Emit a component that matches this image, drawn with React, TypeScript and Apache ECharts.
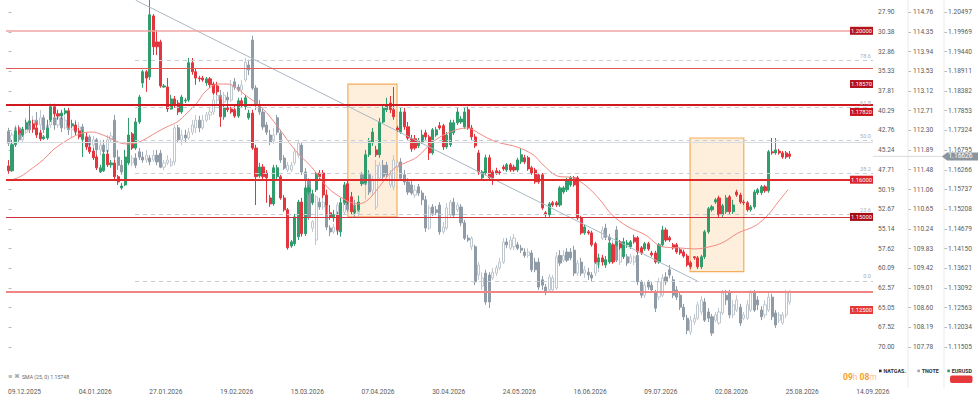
import React, { useEffect, useRef } from "react";
import * as echarts from "echarts";

// ---------- data ----------
const dateLabels = ["09.12.2025","04.01.2026","27.01.2026","19.02.2026","15.03.2026","07.04.2026","30.04.2026","24.05.2026","16.06.2026","09.07.2026","02.08.2026","25.08.2026","14.09.2026"];
const natgasTicks = [27.90,30.38,32.86,35.33,37.81,40.29,42.76,45.24,47.71,50.19,52.67,55.14,57.62,60.09,62.57,65.05,67.52,70.00];
const tnoteTicks = [114.76,114.35,113.94,113.53,113.12,112.71,112.30,111.89,111.48,111.06,110.65,110.24,109.83,109.42,109.01,108.60,108.19,107.78];
const eurusdTicks = [1.20497,1.19969,1.19440,1.18911,1.18382,1.17853,1.17324,1.16795,1.16266,1.15737,1.15208,1.14679,1.14150,1.13621,1.13092,1.12563,1.12034,1.11505];

const levelValues = [1.2, 1.1857, 1.1782, 1.16, 1.15, 1.125];
const fibRatios = [0, 23.6, 38.2, 50.0, 61.8, 78.6, 100];
const fibStartIndex = 35.8;
const fibHigh = 1.2083;
const fibLow = 1.1328;
const trendLine = [[36.0, 1.2082], [194.8, 1.1328]];
const zones = [
  [[96.0, 1.1857], [109.9, 1.15]],
  [[192.8, 1.1712], [208.0, 1.1353]],
];
const lastPrice = 1.16626;
const smaText = "SMA (25, 0) 1.15748";
const legendNames = ["NATGAS.", "TNOTE", "EURUSD"];

// EURUSD daily candles: [open, close, low, high]
const eurusdCandles = [
[1.1637,1.1624,1.1616,1.1653],[1.1624,1.1694,1.1621,1.1707],[1.1694,1.1731,1.1688,1.1742],[1.1731,1.1726,1.1720,1.1742],[1.1720,1.1736,1.1715,1.1742],
[1.1736,1.1753,1.1734,1.1761],[1.1753,1.1758,1.1745,1.1804],[1.1750,1.1736,1.1726,1.1761],[1.1739,1.1720,1.1712,1.1755],[1.1726,1.1710,1.1704,1.1734],
[1.1710,1.1715,1.1707,1.1720],[1.1712,1.1739,1.1707,1.1761],[1.1761,1.1796,1.1755,1.1804],[1.1796,1.1777,1.1769,1.1804],[1.1777,1.1771,1.1761,1.1788],
[1.1771,1.1779,1.1763,1.1788],[1.1779,1.1785,1.1774,1.1793],[1.1785,1.1745,1.1739,1.1793],[1.1745,1.1750,1.1739,1.1761],[1.1747,1.1731,1.1720,1.1755],
[1.1731,1.1715,1.1710,1.1739],[1.1710,1.1720,1.1661,1.1734],[1.1715,1.1688,1.1680,1.1726],[1.1688,1.1675,1.1669,1.1699],[1.1677,1.1659,1.1653,1.1685],
[1.1661,1.1632,1.1626,1.1667],[1.1621,1.1632,1.1618,1.1640],[1.1624,1.1669,1.1621,1.1680],[1.1669,1.1640,1.1634,1.1680],[1.1640,1.1645,1.1632,1.1653],
[1.1645,1.1608,1.1600,1.1653],[1.1608,1.1594,1.1586,1.1613],[1.1578,1.1583,1.1573,1.1591],[1.1586,1.1661,1.1583,1.1680],[1.1645,1.1720,1.1640,1.1766],
[1.1723,1.1685,1.1680,1.1728],[1.1685,1.1755,1.1680,1.1766],[1.1755,1.1822,1.1750,1.1828],[1.1860,1.1890,1.1847,1.1895],[1.1890,1.1873,1.1836,1.1895],
[1.1876,1.2043,1.1868,1.2083],[1.2040,1.1957,1.1935,1.2045],[1.1970,1.1957,1.1935,1.2002],[1.1970,1.1852,1.1847,1.1976],[1.1849,1.1852,1.1847,1.1857],
[1.1849,1.1790,1.1782,1.1873],[1.1790,1.1817,1.1788,1.1828],[1.1817,1.1801,1.1793,1.1825],[1.1806,1.1782,1.1774,1.1814],[1.1782,1.1822,1.1777,1.1828],
[1.1812,1.1814,1.1806,1.1820],[1.1814,1.1914,1.1809,1.1927],[1.1914,1.1890,1.1882,1.1927],[1.1890,1.1873,1.1855,1.1900],[1.1873,1.1871,1.1863,1.1879],
[1.1873,1.1868,1.1863,1.1879],[1.1860,1.1871,1.1852,1.1876],[1.1871,1.1855,1.1847,1.1876],[1.1857,1.1833,1.1828,1.1863],[1.1852,1.1836,1.1828,1.1863],
[1.1814,1.1769,1.1742,1.1822],[1.1769,1.1793,1.1761,1.1801],[1.1793,1.1788,1.1782,1.1798],[1.1790,1.1782,1.1777,1.1796],[1.1788,1.1771,1.1766,1.1801],
[1.1771,1.1812,1.1766,1.1820],[1.1812,1.1804,1.1793,1.1820],[1.1796,1.1820,1.1788,1.1828],[1.1766,1.1779,1.1761,1.1788],[1.1779,1.1685,1.1680,1.1788],
[1.1685,1.1608,1.1532,1.1694],[1.1610,1.1634,1.1605,1.1645],[1.1634,1.1608,1.1600,1.1642],[1.1618,1.1605,1.1538,1.1626],[1.1551,1.1535,1.1527,1.1559],
[1.1535,1.1632,1.1530,1.1640],[1.1608,1.1632,1.1600,1.1640],[1.1608,1.1551,1.1546,1.1613],[1.1551,1.1519,1.1514,1.1559],[1.1519,1.1417,1.1412,1.1524],
[1.1422,1.1433,1.1417,1.1438],[1.1428,1.1500,1.1422,1.1508],[1.1447,1.1540,1.1438,1.1546],[1.1540,1.1455,1.1447,1.1551],[1.1455,1.1578,1.1449,1.1586],
[1.1567,1.1578,1.1559,1.1586],[1.1538,1.1562,1.1532,1.1573],[1.1573,1.1616,1.1567,1.1621],[1.1618,1.1608,1.1600,1.1626],[1.1618,1.1559,1.1551,1.1626],
[1.1559,1.1532,1.1506,1.1573],[1.1511,1.1500,1.1492,1.1532],[1.1497,1.1506,1.1487,1.1519],[1.1506,1.1465,1.1452,1.1514],[1.1460,1.1538,1.1447,1.1551],
[1.1538,1.1586,1.1532,1.1594],[1.1589,1.1540,1.1532,1.1600],[1.1554,1.1514,1.1506,1.1567],[1.1514,1.1519,1.1508,1.1530],[1.1519,1.1540,1.1514,1.1557],
[1.1589,1.1594,1.1583,1.1605],[1.1591,1.1667,1.1586,1.1680],[1.1667,1.1702,1.1661,1.1712],[1.1699,1.1728,1.1691,1.1739],[1.1680,1.1667,1.1661,1.1691],
[1.1667,1.1755,1.1659,1.1766],[1.1755,1.1793,1.1750,1.1801],[1.1788,1.1801,1.1782,1.1820],[1.1806,1.1788,1.1779,1.1825],[1.1788,1.1769,1.1761,1.1849],
[1.1739,1.1734,1.1728,1.1745],[1.1728,1.1782,1.1723,1.1793],[1.1782,1.1742,1.1734,1.1793],[1.1742,1.1712,1.1707,1.1755],[1.1710,1.1683,1.1675,1.1720],
[1.1710,1.1685,1.1680,1.1720],[1.1691,1.1704,1.1685,1.1712],[1.1702,1.1720,1.1696,1.1734],[1.1726,1.1715,1.1707,1.1734],[1.1715,1.1672,1.1653,1.1720],
[1.1672,1.1734,1.1667,1.1739],[1.1720,1.1734,1.1715,1.1742],[1.1745,1.1739,1.1734,1.1755],[1.1745,1.1688,1.1680,1.1750],[1.1688,1.1720,1.1683,1.1728],
[1.1694,1.1753,1.1688,1.1761],[1.1726,1.1753,1.1720,1.1761],[1.1753,1.1782,1.1747,1.1793],[1.1755,1.1763,1.1750,1.1771],[1.1742,1.1782,1.1736,1.1793],
[1.1788,1.1739,1.1734,1.1796],[1.1739,1.1715,1.1707,1.1747],[1.1715,1.1691,1.1685,1.1723],[1.1672,1.1621,1.1613,1.1680],[1.1605,1.1621,1.1600,1.1626],
[1.1618,1.1659,1.1613,1.1667],[1.1659,1.1605,1.1600,1.1667],[1.1621,1.1605,1.1586,1.1626],[1.1624,1.1618,1.1613,1.1632],[1.1621,1.1618,1.1613,1.1626],
[1.1634,1.1629,1.1624,1.1640],[1.1626,1.1640,1.1621,1.1645],[1.1640,1.1626,1.1621,1.1645],[1.1634,1.1626,1.1621,1.1640],[1.1626,1.1653,1.1621,1.1659],
[1.1648,1.1667,1.1642,1.1685],[1.1659,1.1648,1.1642,1.1667],[1.1659,1.1629,1.1624,1.1664],[1.1632,1.1618,1.1613,1.1637],[1.1626,1.1594,1.1589,1.1632],
[1.1613,1.1594,1.1589,1.1618],[1.1613,1.1524,1.1519,1.1618],[1.1511,1.1506,1.1500,1.1516],[1.1506,1.1535,1.1500,1.1540],[1.1538,1.1532,1.1527,1.1543],
[1.1538,1.1532,1.1527,1.1543],[1.1532,1.1578,1.1527,1.1583],[1.1567,1.1578,1.1562,1.1583],[1.1573,1.1600,1.1567,1.1605],[1.1586,1.1605,1.1581,1.1610],
[1.1605,1.1586,1.1581,1.1610],[1.1605,1.1497,1.1492,1.1610],[1.1497,1.1457,1.1452,1.1503],[1.1457,1.1473,1.1452,1.1479],[1.1460,1.1457,1.1452,1.1465],
[1.1457,1.1425,1.1420,1.1463],[1.1428,1.1379,1.1374,1.1433],[1.1379,1.1390,1.1363,1.1401],[1.1390,1.1379,1.1369,1.1398],[1.1371,1.1385,1.1363,1.1395],
[1.1379,1.1430,1.1374,1.1438],[1.1425,1.1379,1.1374,1.1430],[1.1425,1.1433,1.1420,1.1444],[1.1433,1.1417,1.1412,1.1438],[1.1393,1.1433,1.1387,1.1444],
[1.1425,1.1430,1.1417,1.1438],[1.1420,1.1433,1.1414,1.1438],[1.1444,1.1433,1.1428,1.1452],[1.1444,1.1406,1.1401,1.1449],[1.1417,1.1403,1.1398,1.1422],
[1.1414,1.1428,1.1409,1.1433],[1.1428,1.1414,1.1409,1.1433],[1.1403,1.1398,1.1393,1.1409],[1.1403,1.1379,1.1374,1.1409],[1.1379,1.1425,1.1374,1.1430],
[1.1425,1.1465,1.1420,1.1476],[1.1465,1.1438,1.1433,1.1471],[1.1444,1.1438,1.1433,1.1449],[1.1425,1.1417,1.1412,1.1430],[1.1425,1.1406,1.1401,1.1430],
[1.1412,1.1403,1.1398,1.1417],[1.1406,1.1395,1.1390,1.1412],[1.1395,1.1371,1.1366,1.1401],[1.1377,1.1366,1.1360,1.1382],[1.1393,1.1390,1.1385,1.1395],
[1.1390,1.1366,1.1360,1.1395],[1.1366,1.1393,1.1360,1.1398],[1.1393,1.1460,1.1387,1.1465],[1.1460,1.1522,1.1455,1.1527],[1.1519,1.1527,1.1514,1.1532],
[1.1540,1.1546,1.1535,1.1551],[1.1551,1.1506,1.1500,1.1557],[1.1506,1.1530,1.1500,1.1535],[1.1514,1.1551,1.1508,1.1559],[1.1554,1.1514,1.1508,1.1559],
[1.1514,1.1532,1.1508,1.1546],[1.1567,1.1559,1.1554,1.1573],[1.1559,1.1540,1.1535,1.1565],[1.1540,1.1538,1.1532,1.1546],[1.1538,1.1519,1.1514,1.1543],
[1.1519,1.1527,1.1514,1.1532],[1.1527,1.1567,1.1522,1.1573],[1.1565,1.1573,1.1559,1.1578],[1.1565,1.1581,1.1559,1.1586],[1.1581,1.1570,1.1565,1.1586],
[1.1570,1.1675,1.1565,1.1680],[1.1675,1.1672,1.1667,1.1712],[1.1672,1.1680,1.1667,1.1712],[1.1677,1.1672,1.1667,1.1683],[1.1672,1.1661,1.1656,1.1677],
[1.1672,1.1661,1.1656,1.1677],[1.1669,1.16626,1.1656,1.1677],
];

// TNOTE daily candles: [open, close, low, high]
const tnoteCandles = [
[112.28,112.03,111.97,112.35],[112.03,112.20,111.93,112.26],[112.20,112.35,112.14,112.41],[112.35,112.10,112.03,112.41],[112.10,112.26,112.05,112.35],
[112.26,112.47,112.22,112.56],[112.47,112.31,112.24,112.56],[112.31,112.51,112.26,112.60],[112.51,112.41,112.35,112.68],[112.41,112.56,112.31,112.72],
[112.56,112.31,112.24,112.62],[112.31,112.41,112.10,112.51],[112.41,112.56,112.35,112.68],[112.56,112.41,112.31,112.77],[112.41,112.56,112.35,112.68],
[112.56,112.35,112.26,112.64],[112.35,112.51,112.31,112.60],[112.51,112.31,112.20,112.62],[112.31,112.39,112.14,112.47],[112.39,112.26,112.20,112.51],
[112.26,112.37,112.10,112.47],[112.37,112.10,111.78,112.43],[112.10,112.16,111.99,112.26],[112.16,111.99,111.89,112.20],[111.99,112.10,111.89,112.18],
[112.10,111.89,111.72,112.14],[111.89,111.99,111.78,112.10],[111.99,111.85,111.68,112.10],[111.85,112.10,111.78,112.20],[112.10,112.18,112.05,112.26],
[112.51,111.74,111.68,112.62],[111.74,111.57,111.47,111.89],[111.57,111.43,111.37,111.68],[111.43,111.68,111.37,111.89],[111.68,111.72,111.57,111.78],
[111.62,111.72,111.55,111.78],[111.72,111.57,111.51,111.82],[111.85,111.74,111.68,111.93],[111.74,111.68,111.62,111.85],[111.68,111.78,111.62,111.89],
[111.72,111.64,111.57,111.78],[111.68,111.78,111.64,111.89],[111.78,111.64,111.57,111.89],[111.82,111.53,111.51,111.89],[111.53,111.62,111.47,111.68],
[111.62,111.68,111.57,111.78],[111.57,111.64,111.53,111.72],[111.64,112.35,111.57,112.41],[112.35,112.10,112.05,112.41],[112.10,112.20,111.99,112.31],
[112.20,112.14,112.05,112.31],[112.14,112.26,112.10,112.35],[112.26,112.41,112.20,112.51],[112.35,112.51,112.24,112.62],[112.51,112.35,112.26,112.60],
[112.35,112.51,112.31,112.62],[112.51,112.62,112.47,112.68],[112.62,112.68,112.51,112.77],[112.68,112.93,112.62,113.03],[112.93,113.03,112.85,113.14],
[113.03,112.89,112.83,113.14],[112.89,113.03,112.83,113.10],[112.99,112.93,112.85,113.10],[112.93,113.24,112.89,113.35],[113.31,113.20,113.14,113.39],
[113.20,113.14,113.10,113.26],[113.14,113.24,113.03,113.35],[113.35,113.72,113.31,113.81],[113.66,113.56,113.45,113.77],[114.18,113.18,113.14,114.27],
[113.18,112.83,112.72,113.24],[112.83,112.68,112.62,112.93],[112.68,112.37,112.31,112.77],[112.41,112.26,112.20,112.47],[112.20,112.05,111.99,112.31],
[112.10,112.20,112.01,112.35],[112.56,112.26,112.20,112.62],[112.24,111.68,111.62,112.31],[111.72,111.51,111.47,111.78],[111.47,111.57,111.43,111.64],
[111.47,111.57,111.43,111.64],[111.62,111.85,111.57,111.93],[111.78,112.03,111.72,112.10],[111.99,111.43,111.37,112.05],[111.43,111.26,111.16,111.51],
[111.26,110.49,110.43,111.30],[110.26,110.39,110.18,110.43],[110.01,110.91,109.91,110.95],[110.80,110.70,110.64,110.89],[110.70,110.80,110.64,110.89],
[110.85,110.28,110.22,110.93],[110.26,110.18,110.09,110.32],[110.18,110.28,110.14,110.35],[110.18,110.74,110.12,110.80],[110.74,110.59,110.43,110.85],
[110.59,110.85,110.53,110.93],[111.01,110.64,110.59,111.10],[110.64,110.74,110.53,110.85],[110.74,110.57,110.47,110.85],[110.57,110.74,110.51,110.85],
[111.37,111.20,111.14,111.43],[111.16,111.37,110.85,111.43],[111.37,111.01,110.95,111.47],[111.05,111.26,110.95,111.35],[110.70,111.57,110.64,111.68],
[111.30,111.57,111.26,111.64],[111.57,111.33,111.26,111.68],[111.57,111.37,111.30,111.64],[111.16,111.37,111.10,111.47],[111.12,111.68,111.05,111.78],
[111.53,111.62,111.47,111.68],[111.64,111.30,111.26,111.72],[111.37,111.22,111.16,111.47],[111.22,111.01,110.95,111.30],[111.16,110.99,110.95,111.26],
[110.95,111.05,110.89,111.16],[111.12,110.99,110.93,111.18],[110.99,110.85,110.74,111.05],[110.85,110.26,110.18,110.93],[110.26,110.68,110.22,110.74],
[110.70,110.57,110.51,110.76],[110.64,110.59,110.53,110.72],[110.74,110.18,110.12,110.80],[110.18,110.28,110.14,110.39],[110.26,110.68,110.22,110.78],
[110.53,110.80,110.47,110.85],[110.80,110.53,110.47,110.89],[110.64,110.74,110.59,110.80],[110.70,110.37,110.30,110.76],[110.37,110.05,110.01,110.43],
[110.05,110.01,109.97,110.12],[109.87,110.05,109.80,110.09],[109.87,109.14,109.07,109.91],[109.28,109.49,109.18,109.55],[109.05,109.22,108.97,109.34],
[109.32,108.72,108.66,109.39],[109.28,108.72,108.59,109.34],[109.22,109.34,109.18,109.43],[109.32,109.43,109.26,109.49],[109.43,109.55,109.39,109.64],
[109.55,109.97,109.51,110.05],[109.97,109.91,109.84,110.05],[109.84,110.01,109.80,110.09],[109.87,110.05,109.80,110.14],[109.91,109.84,109.80,109.97],
[109.84,109.80,109.74,109.91],[109.76,109.69,109.64,109.84],[109.69,109.76,109.64,109.84],[109.74,109.39,109.34,109.80],[109.55,109.39,109.34,109.64],
[109.55,109.03,108.97,109.64],[109.18,109.07,108.97,109.26],[109.03,108.93,108.86,109.09],[108.97,109.24,108.93,109.30],[108.97,109.22,108.93,109.28],
[109.01,109.66,108.97,109.76],[109.69,109.53,109.47,109.80],[109.59,109.69,109.55,109.80],[109.76,109.59,109.55,109.84],[109.76,109.64,109.59,109.84],
[109.80,109.32,109.26,109.89],[109.32,109.53,109.26,109.59],[109.55,109.32,109.26,109.64],[109.32,109.39,109.22,109.47],[109.34,109.28,109.18,109.43],
[109.28,109.22,109.14,109.34],[109.32,109.74,109.26,109.80],[109.49,109.55,109.34,109.64],[110.05,110.22,110.01,110.30],[110.26,110.07,110.01,110.35],
[110.07,110.01,109.93,110.14],[109.80,109.91,109.69,110.01],[110.22,109.59,109.55,110.30],[109.55,109.95,109.49,110.01],[109.91,109.76,109.69,109.97],
[109.66,109.53,109.47,109.72],[109.55,109.66,109.51,109.72],[109.55,109.66,109.49,109.69],[109.69,109.14,109.07,109.76],[109.14,108.86,108.80,109.18],
[108.86,109.07,108.80,109.14],[109.14,109.03,108.97,109.18],[109.07,108.97,108.91,109.14],[108.91,108.59,108.51,108.97],[108.82,109.14,108.76,109.22],
[108.86,109.22,108.82,109.30],[109.24,109.14,109.07,109.34],[109.39,109.28,109.22,109.49],[109.18,108.86,108.80,109.26],[108.97,108.82,108.76,109.05],
[108.86,108.61,108.55,108.93],[108.61,108.41,108.34,108.68],[108.38,108.13,108.05,108.45],[108.09,108.34,108.03,108.43],[108.30,108.38,108.24,108.47],
[108.38,108.66,108.34,108.72],[108.51,108.76,108.45,108.84],[108.72,108.34,108.30,108.80],[108.51,108.38,108.30,108.59],[108.41,108.07,108.01,108.47],
[108.34,108.45,108.30,108.51],[108.28,108.51,108.24,108.59],[108.49,108.91,108.45,108.97],[108.86,108.76,108.66,108.97],[108.91,108.45,108.38,108.97],
[108.45,108.66,108.38,108.76],[108.55,108.76,108.51,108.86],[108.61,108.28,108.22,108.68],[108.38,108.45,108.34,108.51],[108.38,108.66,108.34,108.76],
[108.55,108.91,108.51,108.97],[108.91,108.55,108.51,108.97],[108.76,108.66,108.55,108.84],[108.55,108.41,108.34,108.63],[108.45,108.66,108.38,108.76],
[108.55,108.82,108.51,108.93],[108.82,108.41,108.34,108.89],[108.49,108.24,108.18,108.55],[108.34,108.45,108.28,108.51],[108.28,108.45,108.24,108.51],
[108.45,108.91,108.38,108.97],[108.72,108.93,108.66,108.97],
];

// SMA(25) read at points along the curve: [candle index, value]
const smaPoints = [
[0,1.1597],[3.3,1.1608],[6.9,1.1632],[9.8,1.1653],[12.6,1.1680],[15.4,1.1699],[18.2,1.1715],[21.1,1.1726],[23.9,1.1728],[25.9,1.1723],
[28.7,1.1712],[31.5,1.1699],[33.8,1.1696],[36.4,1.1699],[39.2,1.1712],[42,1.1728],[44.8,1.1742],[47.7,1.1755],[50.5,1.1779],[53.3,1.1806],
[55.6,1.1836],[59.3,1.1857],[62.1,1.1857],[64.1,1.1849],[66.9,1.1828],[71.7,1.1793],[76.2,1.1742],[81,1.1680],[85.9,1.1632],[90.4,1.1578],
[95.2,1.1546],[98.9,1.1535],[101.7,1.1546],[105.7,1.1591],[109.3,1.1632],[112.2,1.1645],[115.6,1.1661],[120.1,1.1702],[124.9,1.1728],[129.7,1.1739],
[131.4,1.1734],[135.4,1.1712],[139,1.1699],[143.8,1.1688],[148.4,1.1667],[151.2,1.1640],[155.2,1.1610],[159.7,1.1605],[163.7,1.1581],[167.3,1.1546],
[170.7,1.1506],[175.3,1.1473],[180.1,1.1452],[184.9,1.1420],[189.4,1.1417],[194.2,1.1414],[197,1.1417],[201.8,1.1430],[206.4,1.1457],[211.2,1.1476],
[214.9,1.1506],[217.7,1.1540],[220.5,1.1573],
];

// ---------- layout / style (not data) ----------
const W = 978, H = 402;
const GRID = { left: 6, top: 0, width: 867, height: 360 };
const X_MIN = -0.707, X_MAX = 244.55;
const LABEL_START = 4.526, LABEL_STEP = 20;
const EUR_RANGE = [1.111563, 1.208274];
const TNOTE_RANGE = [107.5088, 115.0165];
const NATGAS_RANGE = [26.353, 71.636];
const levelStyles = [
  { line: "#f2a3a3", width: 1.6, box: "#b3141c" },
  { line: "#e05a5a", width: 1.2, box: "#b3141c" },
  { line: "#d0181f", width: 2, box: "#c8141c" },
  { line: "#e02a2a", width: 1.8, box: "#d8222a" },
  { line: "#d0343a", width: 1, box: "#a50d14" },
  { line: "#ef8585", width: 2, box: "#e53935" },
];
const FONT = "Roboto, 'Noto Sans', sans-serif";
const AXIS_TEXT = "#5b5b5b";

function yAxisCfg(ticks: number[], range: number[], offset: number, digits: number, inverse: boolean, margin: number) {
  return {
    type: "value",
    position: "right",
    offset,
    inverse,
    min: range[0],
    max: range[1],
    axisLine: { show: false },
    splitLine: { show: false },
    axisTick: { show: true, length: 3, customValues: ticks, lineStyle: { color: "#b9b9b9", width: 1 } },
    axisLabel: {
      customValues: ticks,
      margin,
      color: AXIS_TEXT,
      fontSize: 6.6,
      fontFamily: FONT,
      formatter: (v: number) => v.toFixed(digits),
    },
  };
}

export default function App() {
  const ref = useRef<HTMLDivElement>(null);

  useEffect(() => {
    if (!ref.current) return;
    const chart = echarts.init(ref.current, null, { renderer: "svg" });

    const labelValues = dateLabels.map((_, k) => LABEL_START + k * LABEL_STEP);

    const levelLines = levelValues.map((v, i) => ({
      yAxis: v,
      lineStyle: { color: levelStyles[i].line, width: levelStyles[i].width, type: "solid" },
    }));
    const fibLines = fibRatios.map((r) => {
      const v = fibLow + (r / 100) * (fibHigh - fibLow);
      const st = { color: "#c6cdd5", width: 1, type: [4, 4] };
      return [
        { coord: [fibStartIndex, v], lineStyle: st },
        { coord: [X_MAX, v], lineStyle: st },
      ];
    });
    const trendStyle = { color: "#a9b8c4", width: 1, type: "solid" };
    const trend = [
      { coord: trendLine[0], lineStyle: trendStyle },
      { coord: trendLine[1], lineStyle: trendStyle },
    ];
    const priceLine = { yAxis: lastPrice, lineStyle: { color: "#d7dbdf", width: 1, type: "solid" } };

    const option: any = {
      animation: false,
      backgroundColor: "#ffffff",
      grid: { left: GRID.left, top: GRID.top, width: GRID.width, height: GRID.height, containLabel: false },
      xAxis: {
        type: "value",
        min: X_MIN,
        max: X_MAX,
        axisLine: { show: false },
        axisTick: { show: false },
        splitLine: { show: false },
        axisLabel: {
          customValues: labelValues,
          margin: 28,
          color: AXIS_TEXT,
          fontSize: 6.6,
          fontFamily: FONT,
          formatter: (v: number) => {
            const k = Math.round((v - LABEL_START) / LABEL_STEP);
            return dateLabels[k] ?? "";
          },
        },
      },
      yAxis: [
        yAxisCfg(natgasTicks, NATGAS_RANGE, 0, 2, true, 5),
        yAxisCfg(tnoteTicks, TNOTE_RANGE, 35, 2, false, 5),
        yAxisCfg(eurusdTicks, EUR_RANGE, 71, 5, false, 4),
      ],
      series: [
        {
          name: "TNOTE",
          type: "candlestick",
          yAxisIndex: 1,
          data: tnoteCandles.map((d, i) => [i, ...d]),
          encode: { x: 0, y: [1, 2, 3, 4] },
          barWidth: 2.6,
          itemStyle: { color: "#ffffff", color0: "#8f9ba6", borderColor: "#c0c8cf", borderColor0: "#8f9ba6", borderWidth: 1 },
          silent: true,
        },
        {
          name: "EURUSD",
          type: "candlestick",
          yAxisIndex: 2,
          data: eurusdCandles.map((d, i) => [i, ...d]),
          encode: { x: 0, y: [1, 2, 3, 4] },
          barWidth: 2.6,
          itemStyle: { color: "#2f9d6c", color0: "#e2363e", borderColor: "#2f9d6c", borderColor0: "#e2363e", borderWidth: 1 },
          silent: true,
        },
        {
          name: "SMA",
          type: "line",
          yAxisIndex: 2,
          data: smaPoints,
          smooth: 0.35,
          symbol: "none",
          silent: true,
          lineStyle: { color: "#f28a82", width: 1 },
          markArea: {
            silent: true,
            itemStyle: { color: "rgba(250, 196, 130, 0.28)", borderColor: "#f6ad5c", borderWidth: 1.2 },
            data: zones.map((z) => [{ coord: z[0] }, { coord: z[1] }]),
          },
          markLine: {
            silent: true,
            symbol: ["none", "none"],
            label: { show: false },
            data: [priceLine, ...fibLines, trend, ...levelLines],
          },
        },
      ],
    };
    chart.setOption(option);

    const yE = (v: number) => chart.convertToPixel({ yAxisIndex: 2 }, v) as number;
    const gx = GRID.left + GRID.width;
    const g: any[] = [];

    // axis column separators
    [908, 944].forEach((x) =>
      g.push({ type: "line", silent: true, z: 1, shape: { x1: x, y1: 0, x2: x, y2: 388 }, style: { stroke: "#ebebeb", lineWidth: 1 } })
    );

    // fib labels
    fibRatios.forEach((r) => {
      if (r === 100) return;
      const y = yE(fibLow + (r / 100) * (fibHigh - fibLow));
      g.push({
        type: "text", silent: true, z: 50, x: gx - 2, y: y - 1.5,
        style: { text: r.toFixed(1), fill: "#a5b2c2", font: `5.6px ${FONT}`, align: "right", verticalAlign: "bottom", textAlign: "right", textVerticalAlign: "bottom" },
      });
    });

    // level tags
    levelValues.forEach((v, i) => {
      const y = yE(v);
      g.push({ type: "rect", silent: true, z: 60, shape: { x: gx - 23, y: y - 4, width: 23, height: 8 }, style: { fill: levelStyles[i].box } });
      g.push({
        type: "text", silent: true, z: 61, x: gx - 11.5, y: y,
        style: { text: v.toFixed(5), fill: "#ffffff", font: `5.8px ${FONT}`, align: "center", verticalAlign: "middle", textAlign: "center", textVerticalAlign: "middle" },
      });
    });

    // current price line extension + tag
    const yp = yE(lastPrice);
    g.push({ type: "line", silent: true, z: 5, shape: { x1: gx, y1: yp, x2: 944, y2: yp }, style: { stroke: "#d7dbdf", lineWidth: 1 } });
    g.push({
      type: "polygon", silent: true, z: 70,
      shape: { points: [[942, yp], [947, yp - 4], [978, yp - 4], [978, yp + 4], [947, yp + 4]] },
      style: { fill: "#8c959d" },
    });
    g.push({
      type: "text", silent: true, z: 71, x: 960.5, y: yp,
      style: { text: lastPrice.toFixed(5), fill: "#ffffff", font: `6.6px ${FONT}`, align: "center", verticalAlign: "middle", textAlign: "center", textVerticalAlign: "middle" },
    });

    // legend of instruments
    const legendX = [879, 917.3, 947.3];
    const legendColors = ["#333333", "#9aa5ae", "#2f9d6c"];
    legendNames.forEach((n, i) => {
      g.push({ type: "rect", silent: true, z: 50, shape: { x: legendX[i], y: 369.6, width: 2.6, height: 2.6 }, style: { fill: legendColors[i] } });
      g.push({
        type: "text", silent: true, z: 50, x: legendX[i] + 4.4, y: 371,
        style: { text: n, fill: "#333333", font: `bold 5.4px ${FONT}`, align: "left", verticalAlign: "middle", textAlign: "left", textVerticalAlign: "middle" },
      });
    });
    g.push({ type: "rect", silent: true, z: 50, shape: { x: 950, y: 375.5, width: 22.5, height: 7.5, r: 2 }, style: { fill: "#e5393b" } });

    // countdown
    g.push({
      type: "text", silent: true, z: 50, x: 843, y: 376.5,
      style: {
        text: "{a|09}{b|h} {a|08}{b|m}",
        align: "left", verticalAlign: "middle", textAlign: "left", textVerticalAlign: "middle",
        font: `8.5px ${FONT}`,
        rich: {
          a: { fill: "#f5a11c", fontSize: 8.5, fontWeight: "bold", fontFamily: FONT },
          b: { fill: "#f8c784", fontSize: 8.5, fontFamily: FONT },
        },
      },
    });

    // SMA indicator caption
    g.push({
      type: "text", silent: true, z: 50, x: 8, y: 376,
      style: { text: "≡ ⌘", fill: "#888888", font: "5.5px 'DejaVu Sans'", align: "left", verticalAlign: "middle", textAlign: "left", textVerticalAlign: "middle" },
    });
    g.push({
      type: "text", silent: true, z: 50, x: 22, y: 376.5,
      style: { text: smaText, fill: "#666666", font: `5.2px ${FONT}`, align: "left", verticalAlign: "middle", textAlign: "left", textVerticalAlign: "middle" },
    });

    chart.setOption({ graphic: g });

    return () => chart.dispose();
  }, []);

  return <div ref={ref} style={{ position: "fixed", left: 0, top: 0, width: W, height: H, background: "#fff" }} />;
}
